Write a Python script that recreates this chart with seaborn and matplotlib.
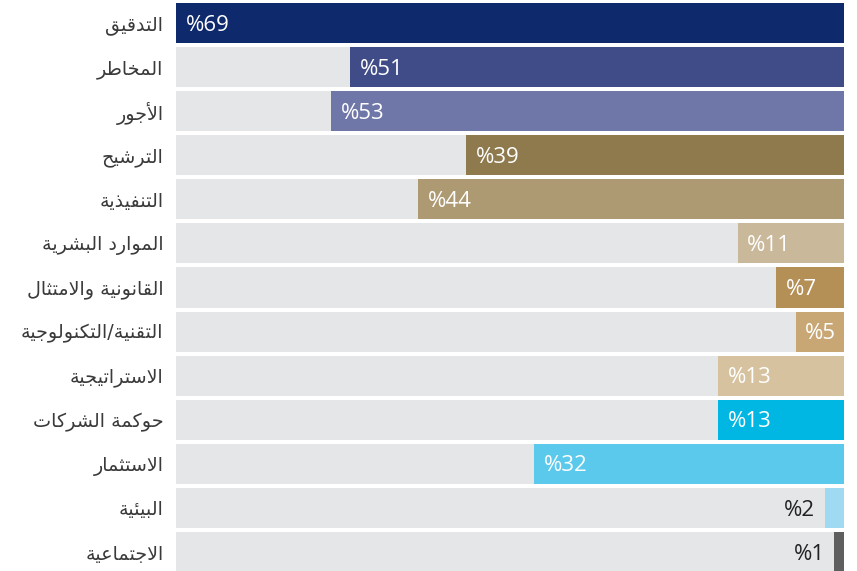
import pandas as pd
import numpy as np
import seaborn as sns
from matplotlib import pyplot as plt

categories = ['التدقيق', 'المخاطر', 'الأجور', 'الترشيح', 'التنفيذية', 'الموارد البشرية',
              'القانونية والامتثال', 'التقنية/التكنولوجية', 'الاستراتيجية', 'حوكمة الشركات',
              'الاستثمار', 'البيئية', 'الاجتماعية']
values = [69, 51, 53, 39, 44, 11, 7, 5, 13, 13, 32, 2, 1]
colors = ['#0e2a6d', '#404c88', '#6f77a8', '#8e7a4d', '#ad9a72', '#c9b89a', '#b48f56',
          '#c8a775', '#d7c2a0', '#00b7e3', '#5bc9ec', '#9fd9f2', '#5f5f5f']
bg_color = '#e5e6e8'

# --- simple arabic shaping (matplotlib draws glyphs left to right, no joining) ---
_counts = [1, 2, 2, 2, 2, 4, 2, 4, 2, 4, 4, 4, 4, 4, 2, 2, 2, 2, 4, 4, 4, 4, 4, 4, 4, 4,
           4, 4, 4, 4, 4, 4, 4, 2, 2, 4]
_letters = [chr(c) for c in list(range(0x621, 0x63B)) + list(range(0x641, 0x64B))]
FORMS = {}
cp = 0xFE80
for ch, n in zip(_letters, _counts):
    FORMS[ch] = [chr(cp + k) for k in range(n)]
    cp += n
LAM_ALEF = {'آ': 0xFEF5, 'أ': 0xFEF7, 'إ': 0xFEF9, 'ا': 0xFEFB}


def joins_next(ch):
    return ch in FORMS and len(FORMS[ch]) == 4


def shape(text):
    out = []
    chars = list(text)
    i = 0
    while i < len(chars):
        ch = chars[i]
        if ch not in FORMS:
            out.append(ch)
            i += 1
            continue
        prev_joins = i > 0 and joins_next(chars[i - 1])
        if ch == 'ل' and i + 1 < len(chars) and chars[i + 1] in LAM_ALEF:
            base = LAM_ALEF[chars[i + 1]]
            out.append(chr(base + (1 if prev_joins else 0)))
            i += 2
            continue
        nxt = chars[i + 1] if i + 1 < len(chars) else None
        next_joins = nxt in FORMS
        f = FORMS[ch]
        if len(f) == 4:
            if prev_joins and next_joins:
                g = f[3]
            elif next_joins:
                g = f[2]
            elif prev_joins:
                g = f[1]
            else:
                g = f[0]
        elif len(f) == 2:
            g = f[1] if prev_joins else f[0]
        else:
            g = f[0]
        out.append(g)
        i += 1
    return ''.join(out[::-1])


df = pd.DataFrame({'cat': categories, 'val': values, 'bg': [max(values)] * len(values)})

fig = plt.figure(figsize=(8.57, 5.71), dpi=100)
ax = fig.add_axes([176 / 857, 0, 668 / 857, 1])

sns.barplot(data=df, x='bg', y='cat', color=bg_color, width=0.91, orient='h', ax=ax)
sns.barplot(data=df, x='val', y='cat', hue='cat', palette=colors, width=0.91,
            orient='h', legend=False, ax=ax, saturation=1)

ax.set_xlim(max(values), 0)
ax.set_ylim(12.43, -0.52)

for i, v in enumerate(values):
    if v >= 5:
        ax.annotate('%' + str(v), (v, i), xytext=(7, -1.5), textcoords='offset points',
                    ha='left', va='center', color='white', fontsize=16, family='Open Sans')
    else:
        ax.annotate('%' + str(v), (v, i), xytext=(-7, -1.5), textcoords='offset points',
                    ha='right', va='center', color='#222222', fontsize=16, family='Open Sans')

ax.set_yticks(range(len(categories)))
ax.set_yticklabels([shape(c) for c in categories], family='DejaVu Sans', fontsize=13.8,
                   color='#3a3a3a')
ax.tick_params(axis='y', length=0, pad=9)
ax.set_xticks([])
ax.set_xlabel('')
ax.set_ylabel('')
for s in ax.spines.values():
    s.set_visible(False)

plt.savefig('out.png', dpi=100)
